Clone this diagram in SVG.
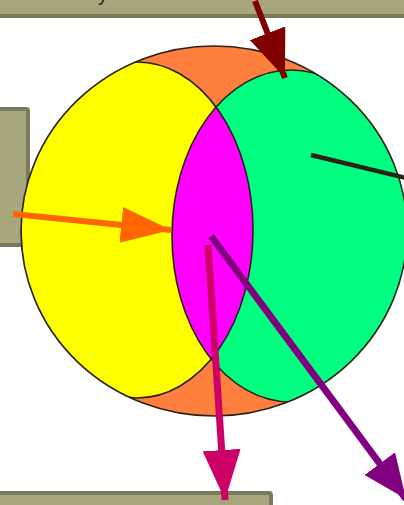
<svg xmlns="http://www.w3.org/2000/svg" width="404" height="505" viewBox="0 0 404 505">
<style>
.box{fill:#A8A67C;stroke:#7C7A5C;stroke-width:4}
.edge{fill:none;stroke:#2a2218;stroke-width:1.6}
.lbl{font-family:"Liberation Sans",Arial,sans-serif;font-size:20px;fill:#2a2218}
</style>
<defs>
<clipPath id="outerClip"><ellipse cx="214" cy="231" rx="193" ry="185"/></clipPath>
<clipPath id="yellowClip"><ellipse cx="137" cy="230" rx="116" ry="168"/></clipPath>
<marker id="hDarkRed" markerUnits="userSpaceOnUse" markerWidth="50" markerHeight="38" refX="48" refY="19" orient="auto" viewBox="0 0 50 38"><path d="M0,0 L48,19 L0,38 z" fill="#800000"/></marker>
<marker id="hOrange" markerUnits="userSpaceOnUse" markerWidth="52" markerHeight="36" refX="50" refY="18" orient="auto" viewBox="0 0 52 36"><path d="M0,0 L50,18 L0,36 z" fill="#FF6600"/></marker>
<marker id="hPink" markerUnits="userSpaceOnUse" markerWidth="52" markerHeight="38" refX="50" refY="19" orient="auto" viewBox="0 0 52 38"><path d="M0,0 L50,19 L0,38 z" fill="#CC0066"/></marker>
<marker id="hPurple" markerUnits="userSpaceOnUse" markerWidth="46" markerHeight="38" refX="44" refY="19" orient="auto" viewBox="0 0 46 38"><path d="M0,0 L44,19 L0,38 z" fill="#800080"/></marker>
</defs>
<rect width="404" height="505" fill="#ffffff"/>
<g id="top-box">
<rect class="box" x="-6" y="-12" width="416" height="28"/>
<text class="lbl" x="98" y="0.5">y</text>
</g>
<g id="left-box"><rect class="box" x="-6" y="109" width="34" height="136" rx="2"/></g>
<g id="bottom-box"><rect class="box" x="-6" y="493" width="277" height="24" rx="2"/></g>
<g id="venn">
<ellipse cx="214" cy="231" rx="193" ry="185" fill="#FF7F3F"/>
<g clip-path="url(#outerClip)">
<ellipse id="set-a" cx="137" cy="230" rx="116" ry="168" fill="#FFFF00"/>
<ellipse id="set-b" cx="291" cy="236" rx="119" ry="166" fill="#00FF80"/>
<ellipse id="intersection" cx="291" cy="236" rx="119" ry="166" fill="#FF00FF" clip-path="url(#yellowClip)"/>
<ellipse class="edge" cx="137" cy="230" rx="116" ry="168"/>
<ellipse class="edge" cx="291" cy="236" rx="119" ry="166"/>
</g>
<ellipse class="edge" cx="214" cy="231" rx="193" ry="185"/>
</g>
<g id="connectors" fill="none">
<line x1="255" y1="1" x2="285" y2="78" stroke="#800000" stroke-width="6" marker-end="url(#hDarkRed)"/>
<line x1="13" y1="214" x2="171" y2="230" stroke="#FF6600" stroke-width="6" marker-end="url(#hOrange)"/>
<line x1="311" y1="155" x2="410" y2="179" stroke="#2a2218" stroke-width="4.5"/>
<line x1="208" y1="245" x2="225" y2="500" stroke="#CC0066" stroke-width="7" marker-end="url(#hPink)"/>
<line x1="211" y1="236" x2="406" y2="499" stroke="#800080" stroke-width="7" marker-end="url(#hPurple)"/>
</g>
</svg>
